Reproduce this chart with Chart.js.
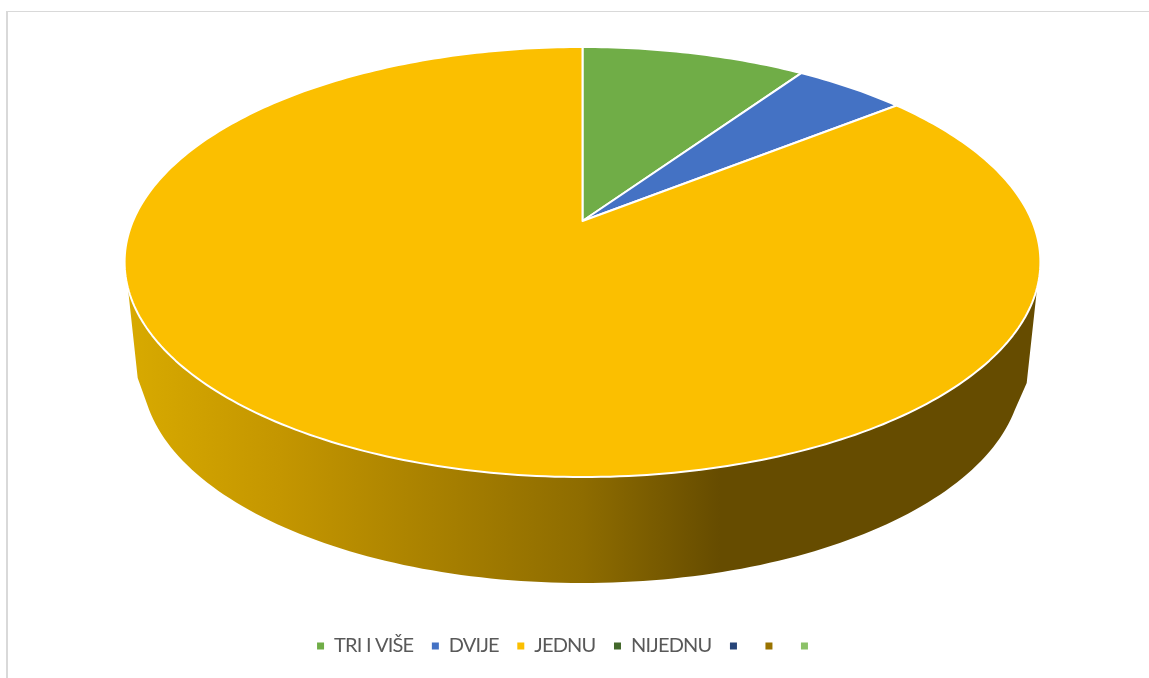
<!DOCTYPE html>
<html>
<head>
<meta charset="utf-8">
<style>
html, body { margin: 0; padding: 0; background: #fff; overflow: hidden; }
#frame { position: absolute; left: 6px; top: 11px; width: 1200px; height: 700px; border-left: 2px solid #d9d9d9; border-top: 1px solid #d9d9d9; }
#grafico { position: absolute; left: 0; top: 0; }
</style>
</head>
<body>
<div id="frame"></div>
<canvas id="grafico" width="1149" height="678"></canvas>
<script src="https://cdn.jsdelivr.net/npm/chart.js@4"></script>
<script>
var categories = ['TRI I VIŠE', 'DVIJE', 'JEDNU', 'NIJEDNU', '', '', ''];
var values = [2, 1, 18, 0, 0, 0, 0];
var colors = ['#70ad47', '#4472c4', '#fbbf00', '#43682b', '#264478', '#997300', '#8cc168'];

// perspective of the top face, fitted on the picture
var topFace = { cx: 582.5, cy: 221, a: 449.5, b: 207.2, k: 0.1907 };
// lower edge of the side wall, with its two corners
var lowEdge = { cx: 582, cy: 372, rx: 440, ry: 211, skip: 0.18, left: [137.7, 378], right: [1026.7, 383] };
var frontFrom = 0.3086, frontTo = Math.PI - 0.3086;

function project(angle) {
    var u = Math.cos(angle), v = Math.sin(angle), w = 1 - topFace.k * v;
    return [topFace.cx + topFace.a * u / w, topFace.cy + topFace.b * v / w];
}

function wallGradient(ctx) {
    var g = ctx.createLinearGradient(127, 0, 1040, 0);
    g.addColorStop(0, 'rgb(216,170,0)');
    g.addColorStop((280 - 127) / 913, 'rgb(196,150,0)');
    g.addColorStop((583 - 127) / 913, 'rgb(142,108,0)');
    g.addColorStop((720 - 127) / 913, 'rgb(102,76,0)');
    g.addColorStop(1, 'rgb(102,76,0)');
    return g;
}

function drawWall(ctx, arc) {
    var s = Math.max(arc.startAngle, frontFrom), e = Math.min(arc.endAngle, frontTo);
    if (e <= s) return;
    var steps = 120, i, p;
    ctx.beginPath();
    for (i = 0; i <= steps; i++) {
        p = project(s + (e - s) * i / steps);
        ctx.lineTo(p[0], p[1]);
    }
    ctx.lineTo(lowEdge.left[0], lowEdge.left[1]);
    for (i = steps; i >= 0; i--) {
        var t = lowEdge.skip + (s + (e - s) * i / steps - frontFrom) / (frontTo - frontFrom) * (Math.PI - 2 * lowEdge.skip);
        ctx.lineTo(lowEdge.cx + lowEdge.rx * Math.cos(t), lowEdge.cy + lowEdge.ry * Math.sin(t));
    }
    ctx.lineTo(lowEdge.right[0], lowEdge.right[1]);
    ctx.closePath();
    ctx.fillStyle = wallGradient(ctx);
    ctx.fill();
}

function drawTop(ctx, arc, color) {
    var steps = Math.max(2, Math.ceil((arc.endAngle - arc.startAngle) * 60));
    ctx.beginPath();
    ctx.moveTo(topFace.cx, topFace.cy);
    for (var i = 0; i <= steps; i++) {
        var p = project(arc.startAngle + (arc.endAngle - arc.startAngle) * i / steps);
        ctx.lineTo(p[0], p[1]);
    }
    ctx.closePath();
    ctx.fillStyle = color;
    ctx.fill();
    ctx.strokeStyle = '#ffffff';
    ctx.lineWidth = 2;
    ctx.lineJoin = 'round';
    ctx.stroke();
}

var pie3d = {
    id: 'pie3d',
    beforeUpdate: function(chart) {
        chart.ctx.letterSpacing = '-0.8px'; // Lato is wider than the reference's font
    },
    beforeDatasetsDraw: function(chart) {
        var ctx = chart.ctx;
        var arcs = chart.getDatasetMeta(0).data;
        ctx.save();
        arcs.forEach(function(arc) { drawWall(ctx, arc); });
        arcs.forEach(function(arc, i) {
            if (arc.endAngle > arc.startAngle) drawTop(ctx, arc, colors[i]);
        });
        ctx.restore();
        return false;
    }
};

window.onload = function(){
    var contexto = document.getElementById("grafico").getContext("2d");
    new Chart(contexto, {
        type: 'pie',
        plugins: [pie3d],
        data: {
            labels: categories,
            datasets: [{
                data: values,
                backgroundColor: colors,
                borderWidth: 0
            }]
        },
        options: {
            responsive: false,
            animation: false,
            layout: { padding: { bottom: 12, right: 14 } },
            plugins: {
                tooltip: { enabled: false },
                legend: {
                    position: 'bottom',
                    labels: {
                        boxWidth: 7,
                        boxHeight: 7,
                        padding: 18.5,
                        color: '#595959',
                        font: { family: 'Lato', size: 20 }
                    }
                }
            }
        }
    });
};
</script>
</body>
</html>
